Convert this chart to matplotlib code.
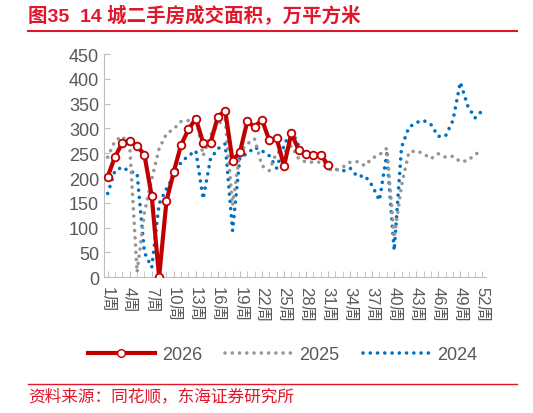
import matplotlib
matplotlib.use("Agg")
import matplotlib.pyplot as plt
from matplotlib.lines import Line2D

plt.rcParams['font.family'] = ['Liberation Sans', 'Noto Sans CJK SC', 'DejaVu Sans']

weeks = list(range(1, 53))
labels = [f"{w}周" for w in weeks]
y2026 = [203, 243, 271, 275, 265, 247, 163, 0, 153, 213, 267, 298, 320, 271, 271, 324, 335,
         235, 252, 314, 303, 318, 276, 281, 224, 290, 257, 249, 247, 247, 226]
y2025 = [242, 275, 284, 265, 10, 130, 198, 259, 289, 299, 314, 316, 325, 245, 286, 309, 319,
         145, 252, 269, 279, 225, 215, 252, 252, 265, 239, 232, 232, 232, 218, 215, 222,
         232, 233, 225, 240, 247, 260, 80, 185, 252, 255, 249, 239, 249, 242, 244, 233, 235, 247, 257]
y2024 = [169, 215, 222, 213, 210, 50, 20, 148, 178, 205, 232, 245, 255, 158, 239, 259, 269,
         94, 242, 249, 262, 255, 245, 220, 265, 298, 265, 245, 245, 244, 222, 218, 214,
         220, 203, 205, 185, 155, 249, 54, 262, 302, 312, 316, 308, 284, 285, 316, 393, 346, 321, 336]

dot = (0, (0.01, 2.0))
fig = plt.figure(figsize=(5.33, 4.14), dpi=100)
ax = fig.add_axes([104/533, 1-278.3/414, (486-104)/533, (278.3-55)/414])

ax.plot(weeks[:len(y2024)], y2024, color='#0070C0', lw=2.6, ls=dot, dash_capstyle='round')
ax.plot(weeks[:len(y2025)], y2025, color='#969696', lw=2.6, ls=dot, dash_capstyle='round')
ax.plot(weeks[:len(y2026)], y2026, color='#C00000', lw=3, marker='o', ms=5.5,
        mfc='white', mec='#C00000', mew=1.3, zorder=5)

ax.set_xlim(0.5, 52.5)
ax.set_ylim(0, 450)
ax.set_yticks(range(0, 451, 50))
ax.set_xticks(weeks, minor=True)
ax.set_xticks(weeks[::3])
ax.set_xticklabels(labels[::3], rotation=-90, fontsize=12, color='#595959')
ax.tick_params(axis='x', which='both', length=4, color='#BFBFBF', direction='in', pad=6)
ax.tick_params(axis='y', length=4, color='#BFBFBF', direction='in', labelsize=13, labelcolor='#595959')
for s in ['top', 'right']:
    ax.spines[s].set_visible(False)
for s in ['left', 'bottom']:
    ax.spines[s].set_color('#BFBFBF')

handles = [Line2D([], [], color='#C00000', lw=3, marker='o', ms=5.5, mfc='white', mec='#C00000'),
           Line2D([], [], color='#969696', lw=2.6, ls=dot, dash_capstyle='round'),
           Line2D([], [], color='#0070C0', lw=2.6, ls=dot, dash_capstyle='round')]
leg = fig.legend(handles, ['2026', '2025', '2024'], loc='center', bbox_to_anchor=(0.53, 1-356/414),
                 ncol=3, frameon=False, fontsize=13, handlelength=3.7, columnspacing=1.3, handletextpad=0.4)
for t in leg.get_texts():
    t.set_color('#595959')

fig.text(28/533, 1-16/414, '图35  14 城二手房成交面积，万平方米', color='#E0162B', fontsize=14,
         fontweight='bold', va='center', ha='left', family=['Liberation Sans', 'Noto Sans CJK SC'])
fig.add_artist(Line2D([28/533, 517/533], [1-32/414]*2, color='#E0162B', lw=1.5))
fig.add_artist(Line2D([28/533, 517/533], [1-385/414]*2, color='#E0162B', lw=1))
fig.text(28/533, 1-398/414, '资料来源：同花顺，东海证券研究所', color='#E0162B', fontsize=12,
         va='center', ha='left', family=['Noto Sans CJK SC'])

fig.savefig('out.png', dpi=100)
